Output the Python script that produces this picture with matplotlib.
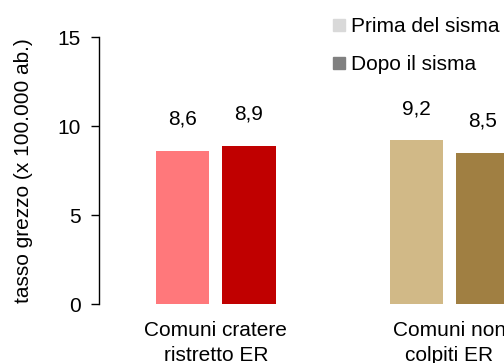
import matplotlib
matplotlib.use("Agg")
import matplotlib.pyplot as plt
import numpy as np
from matplotlib.lines import Line2D

plt.rcParams["font.family"] = ["Liberation Sans", "DejaVu Sans"]

# data
categories = ["Comuni cratere\nristretto ER", "Comuni non\ncolpiti ER"]
prima = [8.6, 9.2]
dopo = [8.9, 8.5]
prima_colors = ["#FF787B", "#D1B987"]
dopo_colors = ["#C00000", "#A07F42"]
series_labels = ["Prima del sisma", "Dopo il sisma"]
legend_colors = ["#D9D9D9", "#808080"]

fig = plt.figure(figsize=(5.04, 3.63), dpi=100)
# axes deliberately run past the right edge (reference is cropped)
ax = fig.add_axes([0.1964, 0.1625, 0.9274, 0.7355])

x = np.arange(len(categories))
w = 0.229
off = 0.142
b1 = ax.bar(x - off, prima, w, color=prima_colors)
b2 = ax.bar(x + off, dopo, w, color=dopo_colors)

fmt = lambda v: f"{v:.1f}".replace(".", ",")
ax.bar_label(b1, labels=[fmt(v) for v in prima], padding=16, fontsize=15)
ax.bar_label(b2, labels=[fmt(v) for v in dopo], padding=16, fontsize=15)

ax.set_xlim(-0.5, 1.5)
ax.set_ylim(0, 15)
ax.set_yticks([0, 5, 10, 15])
ax.set_xticks(x)
ax.set_xticklabels(categories, fontsize=15, linespacing=1.4)
ax.tick_params(axis="x", length=0, pad=12)
ax.tick_params(axis="y", length=6, width=1, pad=7, labelsize=15)
ax.set_ylabel("tasso grezzo (x 100.000 ab.)", fontsize=15, labelpad=18)

for s in ["top", "right", "bottom"]:
    ax.spines[s].set_visible(False)
ax.spines["left"].set_linewidth(1)

handles = [Line2D([], [], marker="s", linestyle="none", markersize=8,
                  markerfacecolor=c, markeredgecolor=c) for c in legend_colors]
fig.legend(handles, series_labels, loc="upper left", bbox_to_anchor=(0.643, 0.975),
           frameon=False, fontsize=15, handlelength=0.6, handletextpad=0.3,
           labelspacing=0.9, borderaxespad=0)

fig.savefig("out.png", dpi=100)
